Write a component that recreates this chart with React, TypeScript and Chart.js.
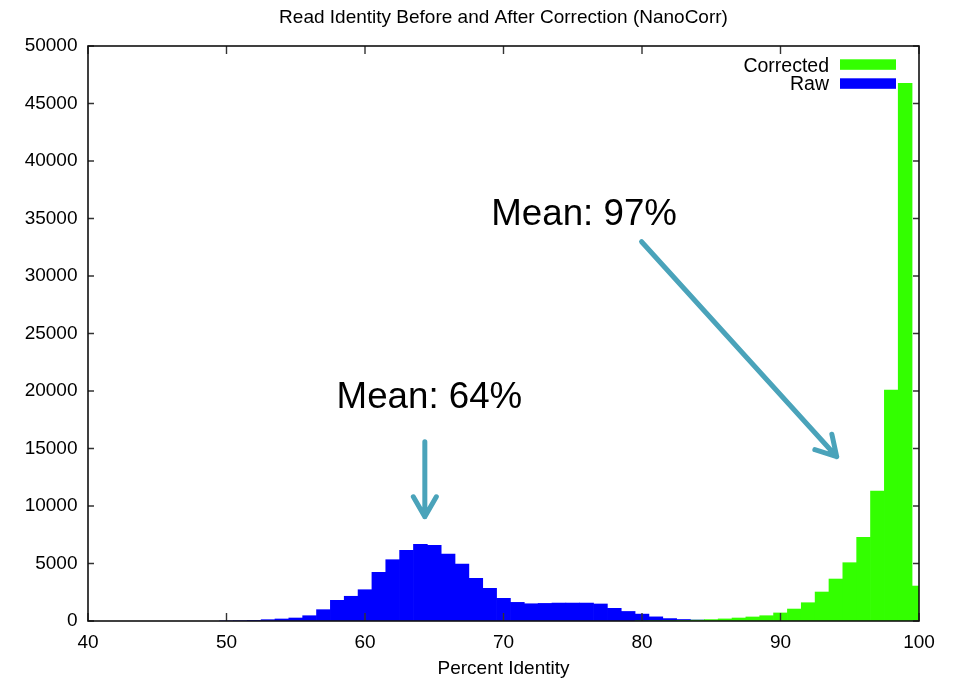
import React, { useEffect, useRef } from "react";
import { Chart, registerables } from "chart.js";

Chart.register(...registerables);

const FONT = "'Liberation Sans', Arial, Helvetica, sans-serif";

const TITLE = "Read Identity Before and After Correction (NanoCorr)";
const X_TITLE = "Percent Identity";
const SERIES_LABELS = ["Corrected", "Raw"];
const SERIES_COLORS = ["#33ff00", "#0000ff"];

const X_TICKS = [40, 50, 60, 70, 80, 90, 100];
const Y_TICKS = [0, 5000, 10000, 15000, 20000, 25000, 30000, 35000, 40000, 45000, 50000];

// Raw read identity histogram (bin centres, 1% wide)
const RAW_BINS = [50, 51, 52, 53, 54, 55, 56, 57, 58, 59, 60, 61, 62, 63, 64, 65, 66, 67, 68, 69, 70, 71, 72, 73, 74, 75, 76, 77, 78, 79, 80, 81, 82, 83, 84, 85, 86];
const RAW_COUNTS = [15, 30, 55, 115, 175, 260, 460, 985, 1800, 2150, 2720, 4230, 5330, 6150, 6670, 6580, 5830, 4950, 3710, 2840, 1970, 1620, 1500, 1530, 1560, 1560, 1560, 1480, 1100, 830, 600, 360, 210, 130, 85, 50, 30];

// Corrected read identity histogram
const CORR_BINS = [80, 81, 82, 83, 84, 85, 86, 87, 88, 89, 90, 91, 92, 93, 94, 95, 96, 97, 98, 99, 100];
const CORR_COUNTS = [20, 30, 40, 55, 75, 120, 180, 260, 350, 460, 700, 1040, 1590, 2520, 3650, 5070, 7280, 11300, 20090, 46750, 3040];

// Annotations (data coordinates)
const NOTE_TEXTS = ["Mean: 64%", "Mean: 97%"];
const NOTE_X = [64.65, 75.82];
const NOTE_Y = [18496, 34435];
const ARROW_FROM_X = [64.32, 79.97];
const ARROW_FROM_Y = [15591, 32983];
const ARROW_TO_X = [64.32, 94.06];
const ARROW_TO_Y = [9070, 14287];

const framePlugin = {
  id: "frameAndNotes",
  afterDatasetsDraw(chart: any) {
    const { ctx, chartArea, scales } = chart;
    const { left, right, top, bottom } = chartArea;
    const xs = scales.x;
    const ys = scales.y;
    ctx.save();
    // title centred over the plot area
    ctx.font = `19px ${FONT}`;
    ctx.textAlign = "center";
    ctx.textBaseline = "alphabetic";
    ctx.fillStyle = "#000";
    ctx.fillText(TITLE, (left + right) / 2, top - 22.7);

    // inward ticks
    ctx.strokeStyle = "#333";
    ctx.lineWidth = 1.4;
    ctx.beginPath();
    X_TICKS.forEach((v) => {
      const px = xs.getPixelForValue(v);
      ctx.moveTo(px, bottom);
      ctx.lineTo(px, bottom - 8);
      ctx.moveTo(px, top);
      ctx.lineTo(px, top + 8);
    });
    Y_TICKS.forEach((v) => {
      const py = ys.getPixelForValue(v);
      ctx.moveTo(left, py);
      ctx.lineTo(left + 6, py);
      ctx.moveTo(right, py);
      ctx.lineTo(right - 6, py);
    });
    ctx.stroke();
    // frame
    ctx.strokeStyle = "#111";
    ctx.lineWidth = 1.6;
    ctx.strokeRect(left, top, right - left, bottom - top);

    // legend (text left of swatch)
    ctx.font = `19.5px ${FONT}`;
    ctx.textAlign = "right";
    ctx.textBaseline = "alphabetic";
    SERIES_LABELS.forEach((lab, i) => {
      ctx.fillStyle = "#000";
      ctx.fillText(lab, right - 90, top + 25.7 + i * 18.5);
      ctx.fillStyle = SERIES_COLORS[i];
      ctx.fillRect(right - 79, top + 13.3 + i * 19, 56, 10.5);
    });

    // annotation texts
    ctx.font = `36.7px ${FONT}`;
    ctx.textAlign = "center";
    ctx.fillStyle = "#000";
    NOTE_TEXTS.forEach((t, i) => {
      ctx.fillText(t, xs.getPixelForValue(NOTE_X[i]), ys.getPixelForValue(NOTE_Y[i]));
    });

    // arrows
    ctx.strokeStyle = "#4aa3ba";
    ctx.lineWidth = 5;
    ctx.lineCap = "round";
    ctx.lineJoin = "round";
    ARROW_FROM_X.forEach((fx, i) => {
      const x0 = xs.getPixelForValue(fx);
      const y0 = ys.getPixelForValue(ARROW_FROM_Y[i]);
      const x1 = xs.getPixelForValue(ARROW_TO_X[i]);
      const y1 = ys.getPixelForValue(ARROW_TO_Y[i]);
      const ang = Math.atan2(y0 - y1, x0 - x1);
      const len = 23;
      const spread = (30 * Math.PI) / 180;
      ctx.beginPath();
      ctx.moveTo(x0, y0);
      ctx.lineTo(x1, y1);
      ctx.moveTo(x1 + len * Math.cos(ang - spread), y1 + len * Math.sin(ang - spread));
      ctx.lineTo(x1, y1);
      ctx.lineTo(x1 + len * Math.cos(ang + spread), y1 + len * Math.sin(ang + spread));
      ctx.stroke();
    });
    ctx.restore();
  },
};

export default function App() {
  const ref = useRef<HTMLCanvasElement | null>(null);

  useEffect(() => {
    if (!ref.current) return;
    const chart = new Chart(ref.current, {
      type: "bar",
      data: {
        datasets: [
          {
            label: SERIES_LABELS[0],
            data: CORR_BINS.map((b, i) => ({ x: b, y: CORR_COUNTS[i] })),
            backgroundColor: SERIES_COLORS[0],
            borderWidth: 0,
            barPercentage: 1,
            categoryPercentage: 1,
            grouped: false,
          } as any,
          {
            label: SERIES_LABELS[1],
            data: RAW_BINS.map((b, i) => ({ x: b, y: RAW_COUNTS[i] })),
            backgroundColor: SERIES_COLORS[1],
            borderWidth: 0,
            barPercentage: 1,
            categoryPercentage: 1,
            grouped: false,
          } as any,
        ],
      },
      options: {
        responsive: false,
        animation: false,
        layout: { padding: { left: 0, right: 35, top: 46, bottom: 0 } },
        plugins: {
          legend: { display: false },
          tooltip: { enabled: false },
          title: { display: false },
        },
        scales: {
          x: {
            type: "linear",
            min: 40,
            max: 100,
            offset: false,
            afterBuildTicks: (s: any) => {
              s.ticks = X_TICKS.map((v) => ({ value: v }));
            },
            afterFit: (s: any) => {
              s.height = 59;
            },
            ticks: {
              autoSkip: false,
              maxRotation: 0,
              padding: 10,
              color: "#000",
              font: { family: FONT, size: 19 },
            },
            grid: { display: false, drawTicks: false },
            border: { display: false },
            title: {
              display: true,
              text: X_TITLE,
              color: "#000",
              font: { family: FONT, size: 19 },
              padding: { top: 0, bottom: 0 },
            },
          },
          y: {
            min: 0,
            max: 50000,
            afterBuildTicks: (s: any) => {
              s.ticks = Y_TICKS.map((v) => ({ value: v }));
            },
            afterFit: (s: any) => {
              s.width = 88;
            },
            ticks: {
              autoSkip: false,
              padding: 10.5,
              color: "#000",
              font: { family: FONT, size: 19 },
              callback: (v: any) => String(v),
            },
            grid: { display: false, drawTicks: false },
            border: { display: false },
          },
        },
      } as any,
      plugins: [framePlugin],
    });
    return () => chart.destroy();
  }, []);

  return (
    <div style={{ position: "absolute", left: 0, top: 0, width: 954, height: 680, background: "#fff" }}>
      <canvas ref={ref} width={954} height={680} style={{ display: "block" }} />
    </div>
  );
}
